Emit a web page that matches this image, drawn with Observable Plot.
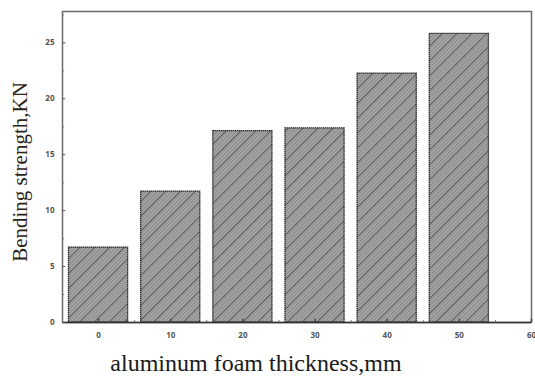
<!DOCTYPE html>
<html>
<head>
<meta charset="utf-8">
<script src="https://cdn.jsdelivr.net/npm/d3@7"></script>
<script src="https://cdn.jsdelivr.net/npm/@observablehq/plot@0.6"></script>
<style>
  html, body { margin: 0; padding: 0; background: #fff; }
  #chart svg { display: block; }
</style>
</head>
<body>
<div id="chart"></div>
<script>
const thickness = [0, 10, 20, 30, 40, 50];
const strength = [6.7, 11.7, 17.1, 17.35, 22.25, 25.8];
const yTicks = [0, 5, 10, 15, 20, 25];
const yMinor = [2.5, 7.5, 12.5, 17.5, 22.5, 27.5];
const xTicks = [0, 10, 20, 30, 40, 50, 60];
const xMinor = [-5, 5, 15, 25, 35, 45, 55];
const xTitle = "aluminum foam thickness,mm";
const yTitle = "Bending strength,KN";

const data = thickness.map((t, i) => ({t, v: strength[i]}));
const half = 4.1;

const chart = Plot.plot({
  width: 535,
  height: 377,
  marginLeft: 62,
  marginRight: 4,
  marginTop: 11,
  marginBottom: 55,
  style: {background: "#fff"},
  x: {domain: [-5, 60], axis: null},
  y: {domain: [0, 27.8], axis: null},
  marks: [
    Plot.rectY(data, {x1: d => d.t - half, x2: d => d.t + half, y: "v", fill: "url(#hatch)", stroke: "#2a2a2a", strokeWidth: 1.3, strokeDasharray: "1.5,0.5"}),
    Plot.frame({stroke: "#6a6a6a", strokeWidth: 1.5}),
    Plot.ruleY([0], {stroke: "#333", strokeWidth: 1.5}),
    Plot.ruleY(yTicks, {y: d => d, x1: -5, x2: -4.55, stroke: "#555"}),
    Plot.ruleY(yMinor, {y: d => d, x1: -5, x2: -4.7, stroke: "#777"}),
    Plot.ruleX(xTicks, {x: d => d, y1: 0, y2: 0.3, stroke: "#444", strokeWidth: 1.5}),
    Plot.ruleX(xMinor, {x: d => d, y1: 0, y2: 0.18, stroke: "#777"}),
    Plot.axisY(yTicks, {tickSize: 0, tickPadding: 8, fontSize: 8, fontWeight: "bold", fill: "#555", label: null}),
    Plot.axisX(xTicks, {tickSize: 0, tickPadding: 10, fontSize: 8, fontWeight: "bold", fill: "#555", label: null})
  ]
});

const svg = d3.select(chart);
const defs = svg.insert("defs", ":first-child");
const P = 10.5;
const pat = defs.append("pattern")
  .attr("id", "hatch")
  .attr("patternUnits", "userSpaceOnUse")
  .attr("width", P)
  .attr("height", P)
  .attr("patternTransform", "rotate(45)");
pat.append("rect").attr("width", P).attr("height", P).attr("fill", "#bcbcbc");
for (let i = 0.75; i < P; i += 1.5) {
  pat.append("line").attr("x1", i).attr("x2", i).attr("y1", 0).attr("y2", P)
    .attr("stroke", "#747474").attr("stroke-width", 0.7);
}
pat.append("line").attr("x1", 0).attr("x2", 0).attr("y1", 0).attr("y2", P)
  .attr("stroke", "#383838").attr("stroke-width", 1.3);

svg.append("text")
  .attr("x", 256).attr("y", 371)
  .attr("text-anchor", "middle")
  .attr("font-family", "'Liberation Serif', 'Times New Roman', serif")
  .attr("font-size", 24)
  .attr("fill", "#1a1a1a")
  .text(xTitle);

svg.append("text")
  .attr("transform", "translate(27,172) rotate(-90)")
  .attr("text-anchor", "middle")
  .attr("font-family", "'Liberation Serif', 'Times New Roman', serif")
  .attr("font-size", 21)
  .attr("fill", "#2a2418")
  .text(yTitle);

document.getElementById("chart").appendChild(chart);
</script>
</body>
</html>
